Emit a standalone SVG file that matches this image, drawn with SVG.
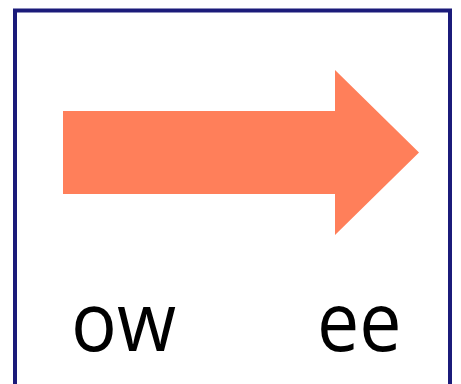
<svg xmlns="http://www.w3.org/2000/svg" width="461" height="384" viewBox="0 0 461 384">
<style>
.frame{fill:#ffffff;stroke:#1b1b7a;stroke-width:4}
.arrow{fill:#ff7f5a;stroke:none}
.lbl{font-family:"Open Sans","Liberation Sans",Arial,sans-serif;font-size:82px;fill:#000000}
</style>
<rect x="0" y="0" width="461" height="384" fill="#ffffff"/>
<g id="frame">
<rect class="frame" x="15" y="10.5" width="435" height="400"/>
</g>
<g id="arrow">
<polygon class="arrow" points="63,111 335,111 335,70 419,152.5 335,235 335,194 63,194"/>
</g>
<g id="label-ow">
<text class="lbl" x="71" y="351" textLength="105" lengthAdjust="spacingAndGlyphs">ow</text>
</g>
<g id="label-ee">
<text class="lbl" x="317" y="351" textLength="84.5" lengthAdjust="spacingAndGlyphs">ee</text>
</g>
</svg>
